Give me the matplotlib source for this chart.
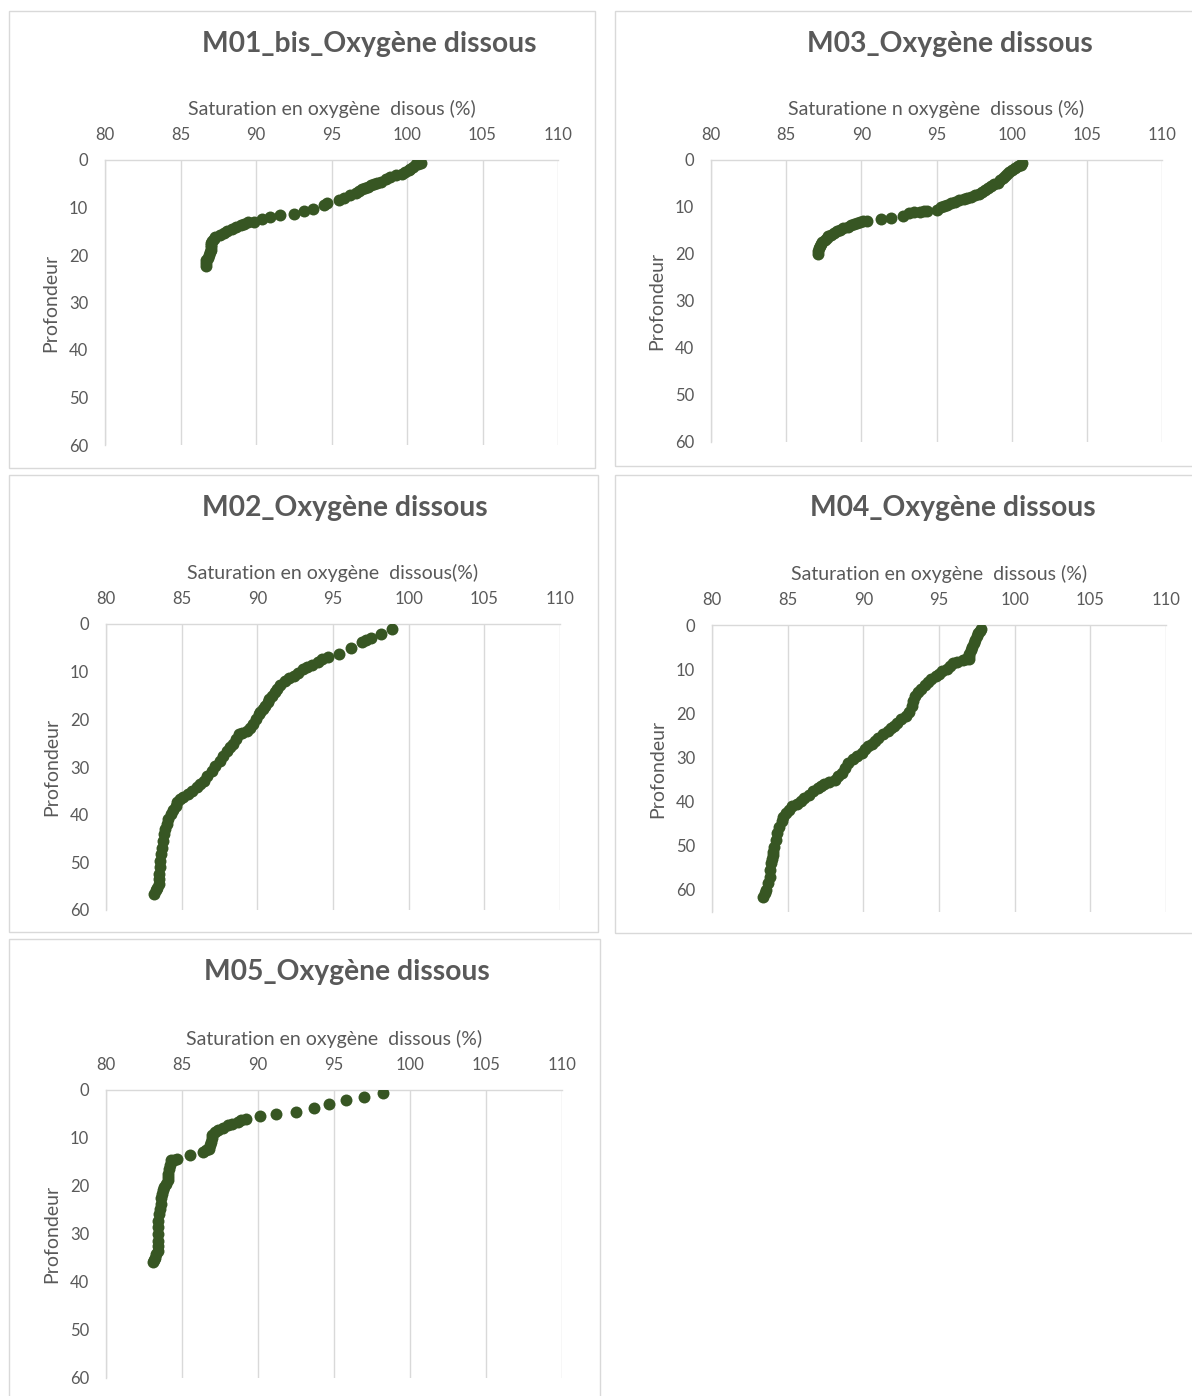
import matplotlib
matplotlib.use("Agg")
import matplotlib.pyplot as plt
from matplotlib.patches import Rectangle

plt.rcParams['font.family'] = ['Lato', 'DejaVu Sans']

W, H = 1192, 1396
GREEN = '#375623'
GREY_TXT = '#595959'
GRID = '#d9d9d9'

# --- profiles: saturation (%) vs depth (m) ---
m01_sat = [100.9, 100.7, 100.6, 100.4, 100.2, 100.1, 99.9, 99.7, 99.3, 98.9, 98.6, 98.3, 98.0,
           97.8, 97.6, 97.4, 97.2, 97.0, 96.8, 96.6, 96.2, 95.8, 95.5, 94.7, 94.5, 93.8, 93.2,
           92.5, 91.6, 90.9, 90.4, 89.9, 89.5, 89.2, 89.0, 88.7, 88.4, 88.1, 87.9, 87.6, 87.3,
           87.2, 87.1, 87.05, 87.0, 87.0, 87.0, 86.95, 86.9, 86.8, 86.7, 86.7, 86.7]
m01_depth = [0.6, 0.8, 0.9, 1.4, 1.8, 2.1, 2.5, 2.9, 3.2, 3.5, 4.1, 4.6, 4.9,
             5.1, 5.3, 5.6, 5.9, 6.2, 6.5, 6.9, 7.3, 7.9, 8.4, 9.1, 9.5, 10.4, 10.7,
             11.4, 11.6, 12.1, 12.5, 13.0, 13.0, 13.4, 13.7, 14.2, 14.6, 15.0, 15.3, 15.8, 16.3,
             16.6, 17.0, 17.4, 17.9, 18.4, 18.9, 19.4, 20.0, 20.6, 21.0, 21.6, 22.3]

m03_sat = [100.7, 100.6, 100.4, 100.2, 100.0, 99.85, 99.7, 99.55, 99.4, 99.25, 99.1, 98.85,
           98.6, 98.4, 98.2, 98.0, 97.8, 97.55, 97.3, 97.05, 96.8, 96.5, 96.2, 95.95, 95.7,
           95.5, 95.3, 95.0, 94.4, 94.2, 93.9, 93.5, 93.2, 92.8, 92.0, 91.3, 90.4, 90.1, 89.9,
           89.7, 89.5, 89.3, 89.1, 88.8, 88.6, 88.4, 88.2, 88.0, 87.8, 87.7, 87.6, 87.4, 87.3,
           87.25, 87.2, 87.15, 87.1]
m03_depth = [0.7, 1.0, 1.3, 1.7, 2.1, 2.5, 3.0, 3.4, 3.9, 4.3, 4.8, 5.1,
             5.5, 5.9, 6.4, 6.9, 7.3, 7.5, 7.8, 8.1, 8.4, 8.6, 8.9, 9.2, 9.6,
             9.8, 10.1, 10.6, 10.8, 10.9, 11.0, 11.1, 11.3, 11.9, 12.4, 12.6, 12.9, 13.0, 13.1,
             13.3, 13.6, 13.9, 14.2, 14.5, 14.9, 15.2, 15.6, 15.9, 16.2, 16.6, 17.0, 17.4, 17.9,
             18.3, 18.8, 19.3, 19.9]

m02_sat = [98.9, 98.2, 97.5, 97.2, 96.9, 96.2, 95.4, 94.7, 94.3, 94.0, 93.6, 93.3, 93.0,
           92.7, 92.4, 92.1, 91.8, 91.5, 91.3, 91.2, 91.0, 90.8, 90.7, 90.5, 90.4, 90.2, 90.1,
           89.9, 89.7, 89.5, 89.3, 89.0, 88.8, 88.6, 88.4, 88.2, 88.0, 87.7, 87.5, 87.2, 87.0,
           86.7, 86.5, 86.2, 86.0, 85.7, 85.4, 85.1, 84.9, 84.7, 84.6, 84.4, 84.3, 84.1, 84.0,
           83.9, 83.8, 83.75, 83.7, 83.65, 83.6, 83.55, 83.5, 83.5, 83.5, 83.4, 83.3, 83.2]
m02_depth = [1.0, 2.1, 3.0, 3.4, 3.8, 5.0, 6.2, 7.0, 7.4, 7.9, 8.6, 9.0, 9.4,
             10.2, 11.0, 11.4, 12.0, 12.9, 13.6, 14.3, 15.0, 15.7, 16.4, 17.2, 17.8, 18.4, 18.9,
             20.0, 21.0, 21.8, 22.4, 22.8, 23.1, 24.2, 25.2, 25.9, 26.6, 27.6, 28.7, 29.8, 30.8,
             31.9, 32.9, 33.6, 34.3, 35.0, 35.7, 36.2, 36.7, 37.4, 38.1, 39.0, 39.9, 41.0, 42.0,
             43.0, 44.1, 45.5, 46.9, 48.3, 49.7, 51.0, 52.4, 53.5, 54.5, 55.3, 55.9, 56.6]

m04_sat = [97.8, 97.7, 97.6, 97.5, 97.4, 97.3, 97.2, 97.1, 97.0, 97.0, 97.0, 96.8, 96.6,
           96.2, 95.9, 95.7, 95.5, 95.2, 95.0, 94.8, 94.5, 94.3, 94.1, 93.8, 93.6, 93.4, 93.3,
           93.2, 93.0, 92.8, 92.5, 92.2, 92.0, 91.8, 91.6, 91.3, 91.0, 90.8, 90.6, 90.3, 90.1,
           89.9, 89.6, 89.3, 89.0, 88.8, 88.6, 88.3, 88.1, 87.7, 87.4, 87.2, 87.0, 86.7, 86.4,
           86.1, 85.9, 85.6, 85.3, 85.1, 84.9, 84.7, 84.6, 84.4, 84.3, 84.2, 84.1, 84.05, 84.0,
           83.95, 83.9, 83.85, 83.8, 83.7, 83.6, 83.5, 83.4]
m04_depth = [0.8, 1.3, 1.9, 2.6, 3.4, 4.1, 4.9, 5.7, 6.5, 7.1, 7.6, 7.8, 8.0,
             8.3, 8.7, 9.3, 9.9, 10.5, 11.0, 11.6, 12.2, 12.9, 13.7, 14.5, 15.2, 16.1, 17.1,
             18.4, 19.8, 20.5, 21.3, 22.1, 22.8, 23.4, 24.0, 24.7, 25.5, 26.3, 27.0, 27.5, 28.1,
             28.9, 29.7, 30.4, 31.2, 32.3, 33.5, 34.3, 35.0, 35.6, 36.1, 36.5, 36.9, 37.6, 38.4,
             39.2, 39.9, 40.5, 41.1, 41.8, 42.6, 43.5, 44.5, 45.8, 47.1, 48.6, 50.2, 51.5, 52.0,
             53.0, 54.0, 55.5, 57.0, 58.5, 60.1, 60.8, 61.6]

m05_sat = [98.2, 97.0, 95.8, 94.7, 93.7, 92.5, 91.2, 90.1, 89.2, 88.9, 88.7, 88.3, 88.0,
           87.7, 87.4, 87.2, 87.0, 86.95, 86.9, 86.85, 86.8, 86.6, 86.4, 85.5, 84.7, 84.5,
           84.3, 84.2, 84.15, 84.1, 84.1, 84.1, 83.95, 83.8, 83.75, 83.7, 83.65, 83.6, 83.55,
           83.5, 83.45, 83.4, 83.4, 83.4, 83.4, 83.4, 83.3, 83.2, 83.15, 83.1]
m05_depth = [0.7, 1.4, 2.1, 3.0, 3.8, 4.5, 5.0, 5.4, 6.1, 6.3, 6.6, 7.0, 7.3,
             8.0, 8.4, 8.7, 9.4, 10.1, 10.8, 11.5, 12.2, 12.6, 12.9, 13.6, 14.3, 14.5,
             14.6, 15.7, 16.5, 17.4, 18.1, 18.8, 19.5, 20.2, 20.9, 21.6, 22.6, 23.7, 24.7,
             25.8, 27.2, 28.6, 30.0, 31.4, 32.4, 33.5, 34.2, 34.9, 35.4, 35.9]

x_ticks = [80, 85, 90, 95, 100, 105, 110]
y_ticks = [0, 10, 20, 30, 40, 50, 60]

# title, x label, sat, depth, depth max, frame box, axes box, title centre (all pixels)
panels = [
    ("M01_bis_Oxygène dissous", "Saturation en oxygène  disous (%)", m01_sat, m01_depth, 60,
     (9, 11, 595, 468), (105, 160, 558, 445), (369, 44)),
    ("M03_Oxygène dissous", "Saturatione n oxygène  dissous (%)", m03_sat, m03_depth, 60,
     (615, 11, 1200, 466), (711, 160, 1162, 442), (950, 44)),
    ("M02_Oxygène dissous", "Saturation en oxygène  dissous(%)", m02_sat, m02_depth, 60,
     (9, 475, 598, 932), (106, 624, 560, 910), (345, 508)),
    ("M04_Oxygène dissous", "Saturation en oxygène  dissous (%)", m04_sat, m04_depth, 65,
     (615, 475, 1200, 933), (712, 625, 1166, 912), (953, 508)),
    ("M05_Oxygène dissous", "Saturation en oxygène  dissous (%)", m05_sat, m05_depth, 60,
     (9, 939, 600, 1402), (106, 1090, 562, 1378), (347, 972)),
]

fig = plt.figure(figsize=(W / 100, H / 100), dpi=100)

for title, xlabel, sat, depth, dmax, frame, box, tpos in panels:
    fx0, fy0, fx1, fy1 = frame
    fig.patches.append(Rectangle((fx0 / W, 1 - fy1 / H), (fx1 - fx0) / W, (fy1 - fy0) / H,
                                 transform=fig.transFigure, fill=False,
                                 edgecolor=GRID, linewidth=1.0))
    x0, y0, x1, y1 = box
    ax = fig.add_axes([x0 / W, 1 - y1 / H, (x1 - x0) / W, (y1 - y0) / H])
    ax.plot(sat, depth, 'o', color=GREEN, markersize=8.6, markeredgewidth=0, zorder=3)

    ax.set_xlim(80, 110)
    ax.set_ylim(dmax, 0)
    ax.set_xticks(x_ticks)
    ax.set_yticks(y_ticks)
    ax.xaxis.tick_top()
    ax.xaxis.set_label_position('top')
    ax.tick_params(axis='x', length=0, pad=12, labelsize=12, labelcolor=GREY_TXT)
    ax.tick_params(axis='y', length=0, pad=12, labelsize=12, labelcolor=GREY_TXT)
    ax.grid(axis='x', color=GRID, linewidth=1.0)
    ax.set_axisbelow(True)
    for side in ['right', 'bottom']:
        ax.spines[side].set_visible(False)
    for side in ['top', 'left']:
        ax.spines[side].set_color(GRID)
        ax.spines[side].set_linewidth(1.0)
    ax.set_xlabel(xlabel, fontsize=14, color=GREY_TXT, labelpad=9)
    ax.set_ylabel("Profondeur", fontsize=14, color=GREY_TXT, labelpad=7)

    fig.text(tpos[0] / W, 1 - tpos[1] / H, title, ha='center', va='center',
             fontsize=20.3, fontweight='bold', color=GREY_TXT)

fig.savefig("out.png", dpi=100, facecolor='white')
